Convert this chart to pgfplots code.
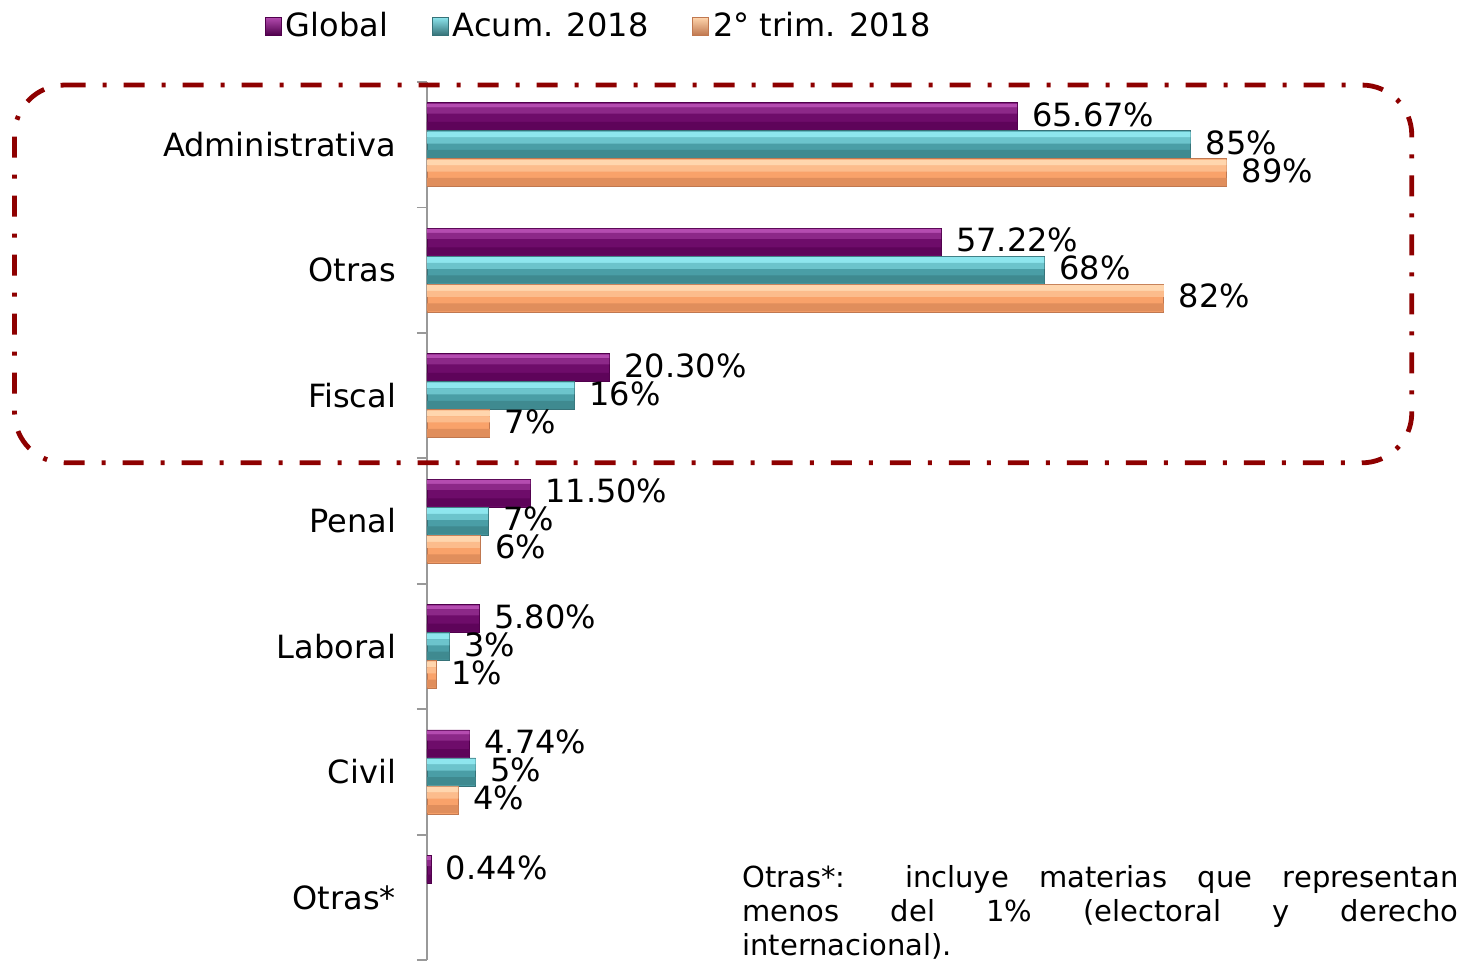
\documentclass[border=0pt]{standalone}
\usepackage{pgfplots}
\pgfplotsset{compat=1.18}
\usepackage{fontspec}
\setmainfont{DejaVu Sans}

\definecolor{purpTop}{HTML}{B44CB0}
\definecolor{purpBl}{HTML}{8C2888}
\definecolor{purpMid}{HTML}{6E0C6A}
\definecolor{purpBot}{HTML}{5E045A}
\definecolor{tealTop}{HTML}{8EE6EE}
\definecolor{tealBl}{HTML}{6CC4CC}
\definecolor{tealMid}{HTML}{4A9EA6}
\definecolor{tealBot}{HTML}{3F8A90}
\definecolor{orTop}{HTML}{FFD6AE}
\definecolor{orBl}{HTML}{FCBC8C}
\definecolor{orMid}{HTML}{F9A26A}
\definecolor{orBot}{HTML}{E08E5C}
\definecolor{orEdge}{HTML}{C07850}
\definecolor{tealEdge}{HTML}{367278}
\definecolor{purpEdge}{HTML}{50004C}
\definecolor{boxred}{HTML}{8E0000}

\pgfplotstableread{
x y lab
65.67 0 65.67\%
57.22 1 57.22\%
20.30 2 20.30\%
11.50 3 11.50\%
5.80 4 5.80\%
4.74 5 4.74\%
0.44 6 0.44\%
}\globaldata
\pgfplotstableread{
x y lab
85 0 85\%
68.7 1 68\%
16.4 2 16\%
6.8 3 7\%
2.5 4 3\%
5.4 5 5\%
}\acumdata
\pgfplotstableread{
x y lab
89 0 89\%
82 1 82\%
7 2 7\%
5.9 3 6\%
1 4 1\%
3.5 5 4\%
}\trimdata

\pgfplotsset{
  lbl/.style={nodes near coords, point meta=explicit symbolic,
    nodes near coords style={font=\fontsize{16}{19}\selectfont, text=black, anchor=west, xshift=4pt, yshift=1pt}},
  legsq/.style 2 args={legend image code/.code={\path[draw=#2, line width=0.4pt, top color=#1, bottom color=#2] (0pt,-4.5pt) rectangle (8pt,4.5pt);}},
  stripe/.style={forget plot, draw=none, fill=#1},
}

\begin{document}
\begin{tikzpicture}
\begin{axis}[
  scale only axis,
  width=449.25pt, height=439pt,
  xmin=0, xmax=100,
  ymin=-0.5, ymax=6.5,
  y dir=reverse,
  xbar, bar width=14pt,
  clip=false,
  axis x line=none,
  axis y line*=left,
  y axis line style={draw=gray!80, line width=0.9pt, -},
  xtick=\empty,
  ytick={0,1,2,3,4,5,6},
  yticklabels={Administrativa,Otras,Fiscal,Penal,Laboral,Civil,Otras*},
  major tick length=0pt,
  minor ytick={-0.5,0.5,1.5,2.5,3.5,4.5,5.5,6.5},
  minor tick length=5pt,
  tick align=outside,
  minor tick style={draw=gray!80, line width=0.9pt},
  yticklabel style={font=\fontsize{16}{19}\selectfont, xshift=-12pt},
  legend style={at={(axis description cs:0.1925,1.0638)}, anchor=center, draw=none, fill=none,
    legend columns=3, font=\fontsize{16}{19}\selectfont,
    /tikz/every even column/.append style={column sep=20pt},
    legend cell align=left, inner sep=0pt},
]
% Global
\addplot[lbl, legsq={purpTop}{purpEdge}, bar shift=14pt, draw=purpEdge, line width=0.4pt, fill=purpMid]
  table[x=x, y=y, meta=lab] {\globaldata};
\addlegendentry{Global}
% Acum. 2018
\addplot[lbl, legsq={tealTop}{tealEdge}, bar shift=0pt, draw=tealEdge, line width=0.4pt, fill=tealMid]
  table[x=x, y=y, meta=lab] {\acumdata};
\addlegendentry{Acum. 2018}
% 2 trim. 2018
\addplot[lbl, legsq={orTop}{orEdge}, bar shift=-14pt, draw=orEdge, line width=0.4pt, fill=orMid]
  table[x=x, y=y, meta=lab] {\trimdata};
\addlegendentry{2° trim. 2018}

% highlight / shade stripes on the bars
\addplot[stripe=purpTop, bar width=2pt, bar shift=19.6pt] table[x=x, y=y] {\globaldata};
\addplot[stripe=purpBl, bar width=3pt, bar shift=17.1pt] table[x=x, y=y] {\globaldata};
\addplot[stripe=purpBot, bar width=4pt, bar shift=9.4pt] table[x=x, y=y] {\globaldata};
\addplot[stripe=tealTop, bar width=3pt, bar shift=5.1pt] table[x=x, y=y] {\acumdata};
\addplot[stripe=tealBl, bar width=3pt, bar shift=2.1pt] table[x=x, y=y] {\acumdata};
\addplot[stripe=tealBot, bar width=4pt, bar shift=-4.6pt] table[x=x, y=y] {\acumdata};
\addplot[stripe=orTop, bar width=3pt, bar shift=-8.9pt] table[x=x, y=y] {\trimdata};
\addplot[stripe=orBl, bar width=3pt, bar shift=-11.9pt] table[x=x, y=y] {\trimdata};
\addplot[stripe=orBot, bar width=4pt, bar shift=-18.6pt] table[x=x, y=y] {\trimdata};

\coordinate (boxTL) at (axis cs:-45.9,-0.476);
\coordinate (boxBR) at (axis cs:109.6,2.536);

\node[anchor=north west, inner sep=0pt, align=left,
  font=\fontsize{14.5}{17}\selectfont] at (axis cs:35.06,5.742)
  {\makebox[358pt][s]{Otras*:\quad\ incluye materias que representan}\\
   \makebox[358pt][s]{menos del 1\% (electoral y derecho}\\
   internacional).};

\coordinate (bbA) at (axis cs:-47.52,-1.154);
\coordinate (bbB) at (axis cs:115.19,6.524);
\end{axis}
% dash-dot frame around the first three categories
\draw[boxred, line width=2.4pt, rounded corners=25pt, dash pattern=on 10.5pt off 8.5pt on 2pt off 8.5pt]
  (boxTL) -- (boxTL -| boxBR) -- (boxBR) -- (boxBR -| boxTL) -- cycle;
\pgfresetboundingbox
\useasboundingbox (bbA) rectangle (bbB);
\end{tikzpicture}
\end{document}
